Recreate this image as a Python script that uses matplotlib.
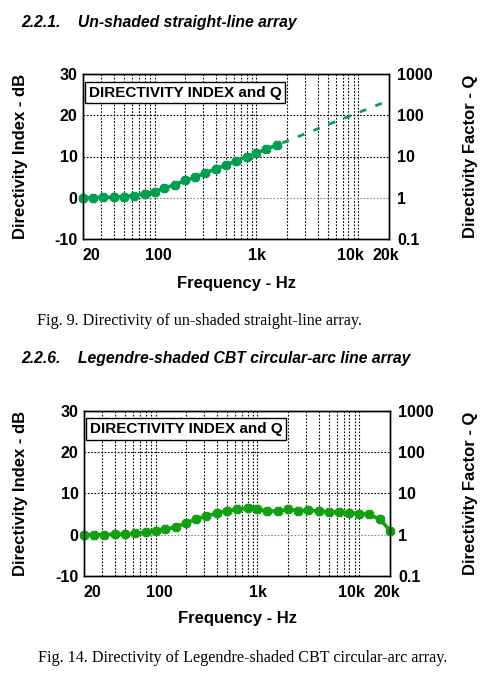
import matplotlib
matplotlib.use("Agg")
import matplotlib.pyplot as plt

plt.rcParams['font.family'] = ['Liberation Sans', 'DejaVu Sans']

# 1/3-octave centre frequencies, 20 Hz .. 20 kHz
freqs = [20, 25, 31.5, 40, 50, 63, 80, 100, 125, 160, 200, 250, 315, 400, 500,
         630, 800, 1000, 1250, 1600, 2000, 2500, 3150, 4000, 5000, 6300, 8000,
         10000, 12500, 16000, 20000]

# un-shaded straight-line array, measured up to 1.6 kHz
di_straight = [0.0, 0.0, 0.1, 0.1, 0.3, 0.5, 0.9, 1.5, 2.3, 3.2, 4.2, 5.0, 6.0,
               7.0, 7.9, 8.9, 9.9, 10.8, 11.8, 12.8]
# dashed extrapolation
extrap_freqs = [1600, 20000]
extrap_di = [12.8, 23.6]

# Legendre-shaded CBT circular-arc array
di_cbt = [0.0, 0.0, 0.0, 0.1, 0.1, 0.3, 0.6, 0.9, 1.3, 1.9, 2.8, 3.8, 4.5, 5.2,
          5.8, 6.1, 6.4, 6.1, 5.7, 5.7, 6.1, 5.8, 5.9, 5.7, 5.5, 5.5, 5.3, 5.1,
          4.9, 3.7, 1.0]

xtick_vals = [20, 100, 1000, 10000, 20000]
xtick_labels = ['20', '100', '1k', '10k', '20k']
ytick_vals = [-10, 0, 10, 20, 30]
q_labels = ['0.1', '1', '10', '100', '1000']

W, H = 489, 679
fig = plt.figure(figsize=(W / 100, H / 100), dpi=100)


def px(x, y):
    return x / W, 1 - y / H


def make_panel(left, top, right, bottom):
    ax = fig.add_axes([left / W, 1 - bottom / H, (right - left) / W, (bottom - top) / H])
    ax.set_xscale('log')
    ax.set_xlim(20, 20000)
    ax.set_ylim(-10, 30)
    # grid
    minors = [m * d for d in (10, 100, 1000) for m in range(2, 10) if 20 < m * d < 20000]
    for f in minors + [100, 1000, 10000]:
        ax.axvline(f, color='black', lw=0.8, ls=(0, (1.5, 1.5)), zorder=1)
    for v in [10, 20]:
        ax.axhline(v, color='black', lw=0.8, ls=(0, (1.5, 1.5)), zorder=1)
    ax.axhline(0, color='#888888', lw=0.8, ls=(0, (1.5, 1.5)), zorder=1)
    ax.set_xticks(xtick_vals)
    ax.set_xticklabels([])
    ax.xaxis.set_minor_locator(matplotlib.ticker.NullLocator())
    # labels in the original sit a little off their gridlines
    for f, lab, dx in zip(xtick_vals, xtick_labels, [8, 4, 1, -8, -3]):
        ax.annotate(lab, xy=(f, 0), xycoords=('data', 'axes fraction'),
                    xytext=(dx, -9), textcoords='offset pixels',
                    ha='center', va='top', fontsize=11.5, fontweight='bold')
    ax.set_yticks(ytick_vals)
    ax.set_yticklabels([str(v) for v in ytick_vals], fontsize=11.5, fontweight='bold')
    ax.tick_params(length=0, pad=4)
    ax2 = ax.twinx()
    ax2.set_ylim(-10, 30)
    ax2.set_yticks(ytick_vals)
    ax2.set_yticklabels(q_labels, fontsize=11.5, fontweight='bold')
    ax2.tick_params(length=0, pad=6)
    for a in (ax, ax2):
        for s in a.spines.values():
            s.set_linewidth(1.0)
    w = right - left
    ax.set_ylabel('Directivity Index - dB', fontsize=12, fontweight='bold')
    ax.yaxis.set_label_coords((28 - left) / w, 0.5)
    ax2.set_ylabel('Directivity Factor - Q', fontsize=12, fontweight='bold', rotation=90)
    ax2.yaxis.set_label_coords((463 - left) / w, 0.5)
    ax.set_xlabel('Frequency - Hz', fontsize=12, fontweight='bold')
    ax.xaxis.set_label_coords(0.5, -(283 - bottom) / (bottom - top) + 0.0)
    ax.xaxis.label.set_va('center')
    ax.text(0.018, 0.93, 'DIRECTIVITY INDEX and Q', transform=ax.transAxes,
            fontsize=11, fontweight='bold', va='top', ha='left', zorder=5,
            bbox=dict(boxstyle='square,pad=0.25', fc='white', ec='black', lw=1.0))
    return ax


# top panel
ax1 = make_panel(83.3, 74, 389, 239)
ax1.plot(freqs[:len(di_straight)], di_straight, color='#00A050', lw=2.6,
         marker='8', ms=7, zorder=4, clip_on=False)
ax1.plot(extrap_freqs, extrap_di, color='#00A050', lw=2.0, ls=(4, (2.5, 3.5)), zorder=4)

# bottom panel
ax3 = make_panel(84.3, 410.7, 390, 576)
ax3.xaxis.set_label_coords(0.5, -(618 - 576) / (576 - 410.7))
ax3.plot(freqs, di_cbt, color='#10A010', lw=2.6, marker='8', ms=7, zorder=4, clip_on=False)

# headings and captions
fig.text(*px(21, 22), '2.2.1.    Un-shaded straight-line array', fontsize=11.3,
         fontweight='bold', style='italic', va='center', ha='left')
fig.text(*px(21, 358), '2.2.6.    Legendre-shaded CBT circular-arc line array', fontsize=11.3,
         fontweight='bold', style='italic', va='center', ha='left')
fig.text(*px(37, 321), 'Fig. 9. Directivity of un-shaded straight-line array.',
         fontsize=11.6, family='Liberation Serif', va='center', ha='left')
fig.text(*px(38, 658), 'Fig. 14. Directivity of Legendre-shaded CBT circular-arc array.',
         fontsize=11.6, family='Liberation Serif', va='center', ha='left')

fig.savefig('out.png', dpi=100)
